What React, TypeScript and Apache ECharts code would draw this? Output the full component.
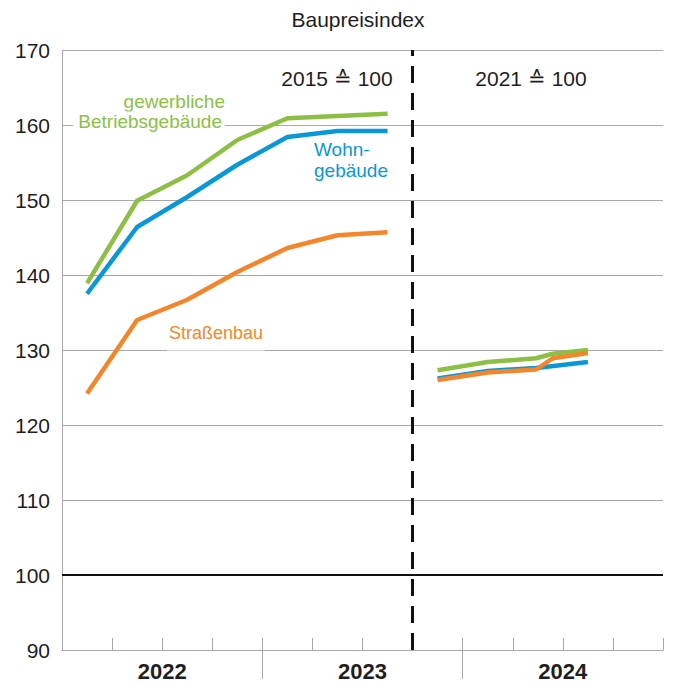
import React, { useEffect, useRef } from "react";
import * as echarts from "echarts";

// months since Jan 2022 (mid-quarter positions)
const xOld = [1.5, 4.5, 7.5, 10.5, 13.5, 16.5, 19.5];
const gewerbeOld = [138.9, 149.9, 153.3, 158.0, 160.9, 161.2, 161.5];
const wohnOld = [137.5, 146.4, 150.4, 154.7, 158.4, 159.2, 159.2];
const strasseOld = [124.2, 134.0, 136.7, 140.4, 143.6, 145.3, 145.7];

const xNew = [22.5, 25.5, 28.4, 29.4, 31.5];
const gewerbeNew = [127.3, 128.4, 128.9, 129.5, 130.0];
const wohnNew = [126.2, 127.2, 127.6, null, 128.4];
const strasseNew = [126.0, 127.0, 127.4, 128.9, 129.6];

const years = ["2022", "2023", "2024"];
const yearTicks = [12, 24];
const yearLabelPos = [6, 18, 30];
const baseBreak = 21;

const GREEN = "#8dbf45";
const BLUE = "#0a97d5";
const ORANGE = "#f3862a";
const GRID = "#a8a8a8";
const TEXT = "#1e1e1e";
const FONT = "'Liberation Sans', Arial, sans-serif";

const pairs = (xs: number[], ys: (number | null)[]) =>
  xs.map((x, i) => [x, ys[i] === null ? "-" : ys[i]]).filter((p) => p[1] !== "-");

export default function App() {
  const ref = useRef<HTMLDivElement>(null);
  useEffect(() => {
    if (!ref.current) return;
    const chart = echarts.init(ref.current, null, { renderer: "svg" });
    const lineSeries = (name: string, color: string, data: any[], z: number) => ({
      name,
      type: "line",
      data,
      symbol: "none",
      z,
      lineStyle: { color, width: 4.5, cap: "butt", join: "round" },
      connectNulls: true,
      silent: true,
    });
    const option: any = {
      animation: false,
      grid: { left: 62, right: 10, top: 50, bottom: 36, containLabel: false },
      xAxis: [
        {
          type: "value",
          min: 0,
          max: 36,
          interval: 3,
          axisLine: { show: true, lineStyle: { color: GRID, width: 1 } },
          axisTick: { show: true, inside: true, length: 12, lineStyle: { color: GRID } },
          axisLabel: { show: false },
          splitLine: { show: false },
        },
        {
          type: "value",
          min: 0,
          max: 36,
          interval: 12,
          position: "bottom",
          axisLine: { show: false },
          axisTick: {
            show: true,
            inside: false,
            length: 29,
            customValues: yearTicks,
            lineStyle: { color: GRID },
          },
          axisLabel: {
            show: true,
            customValues: yearLabelPos,
            margin: 10,
            formatter: (v: number) => years[Math.floor(v / 12)] ?? "",
            fontFamily: FONT,
            fontSize: 22,
            fontWeight: "bold",
            color: TEXT,
          },
          splitLine: {
            show: true,
            showMinLine: false,
            showMaxLine: false,
            lineStyle: { color: GRID, width: 1 },
          },
        },
      ],
      yAxis: {
        type: "value",
        min: 90,
        max: 170,
        interval: 10,
        axisLine: { show: true, lineStyle: { color: GRID, width: 1 } },
        axisTick: { show: false },
        axisLabel: { fontFamily: FONT, fontSize: 21, color: TEXT, margin: 12 },
        splitLine: { show: true, lineStyle: { color: GRID, width: 1 } },
      },
      series: [
        {
          type: "line",
          data: [],
          silent: true,
          markLine: {
            silent: true,
            symbol: "none",
            label: { show: false },
            data: [
              { yAxis: 100, lineStyle: { color: "#111", width: 2, type: "solid" } },
              {
                xAxis: baseBreak,
                lineStyle: { color: "#111", width: 3, type: [17, 10], dashOffset: 0 },
              },
            ],
          },
        },
        lineSeries("Wohngebäude", BLUE, pairs(xOld, wohnOld), 3),
        lineSeries("Wohngebäude neu", BLUE, pairs(xNew, wohnNew), 3),
        lineSeries("gewerbliche Betriebsgebäude", GREEN, pairs(xOld, gewerbeOld), 4),
        lineSeries("gewerbliche Betriebsgebäude neu", GREEN, pairs(xNew, gewerbeNew), 4),
        lineSeries("Straßenbau", ORANGE, pairs(xOld, strasseOld), 5),
        lineSeries("Straßenbau neu", ORANGE, pairs(xNew, strasseNew), 5),
      ],
      graphic: [
        {
          type: "text",
          x: 358,
          y: 19,
          style: { text: "Baupreisindex", font: `21px ${FONT}`, fill: TEXT, textAlign: "center", textVerticalAlign: "middle" },
        },
        {
          type: "text",
          x: 337,
          y: 78,
          style: { text: "2015 ≙ 100", font: `21px ${FONT}`, fill: TEXT, textAlign: "center", textVerticalAlign: "middle" },
        },
        {
          type: "text",
          x: 531,
          y: 78,
          style: { text: "2021 ≙ 100", font: `21px ${FONT}`, fill: TEXT, textAlign: "center", textVerticalAlign: "middle" },
        },
        {
          type: "text",
          x: 225,
          y: 101,
          z: 10,
          style: { text: "gewerbliche", font: `19px ${FONT}`, fill: GREEN, textAlign: "right", textVerticalAlign: "middle" },
        },
        {
          type: "text",
          x: 225,
          y: 121,
          z: 10,
          style: {
            text: "Betriebsgebäude",
            font: `19px ${FONT}`,
            fill: GREEN,
            textAlign: "right",
            textVerticalAlign: "middle",
            backgroundColor: "#fff",
            padding: [0, 3, 0, 5],
          },
        },
        {
          type: "text",
          x: 314,
          y: 149,
          z: 10,
          style: { text: "Wohn-", font: `19px ${FONT}`, fill: BLUE, textAlign: "left", textVerticalAlign: "middle" },
        },
        {
          type: "text",
          x: 314,
          y: 170,
          z: 10,
          style: { text: "gebäude", font: `19px ${FONT}`, fill: BLUE, textAlign: "left", textVerticalAlign: "middle" },
        },
        {
          type: "text",
          x: 167,
          y: 333,
          z: 10,
          style: {
            text: "Straßenbau",
            font: `18px ${FONT}`,
            fill: ORANGE,
            textAlign: "left",
            textVerticalAlign: "middle",
            backgroundColor: "#fff",
            padding: [12, 2, 5, 2],
          },
        },
      ],
    };
    chart.setOption(option);
    return () => chart.dispose();
  }, []);
  return (
    <div
      ref={ref}
      style={{ position: "absolute", left: 0, top: 0, width: 673, height: 686, background: "#fff" }}
    />
  );
}
